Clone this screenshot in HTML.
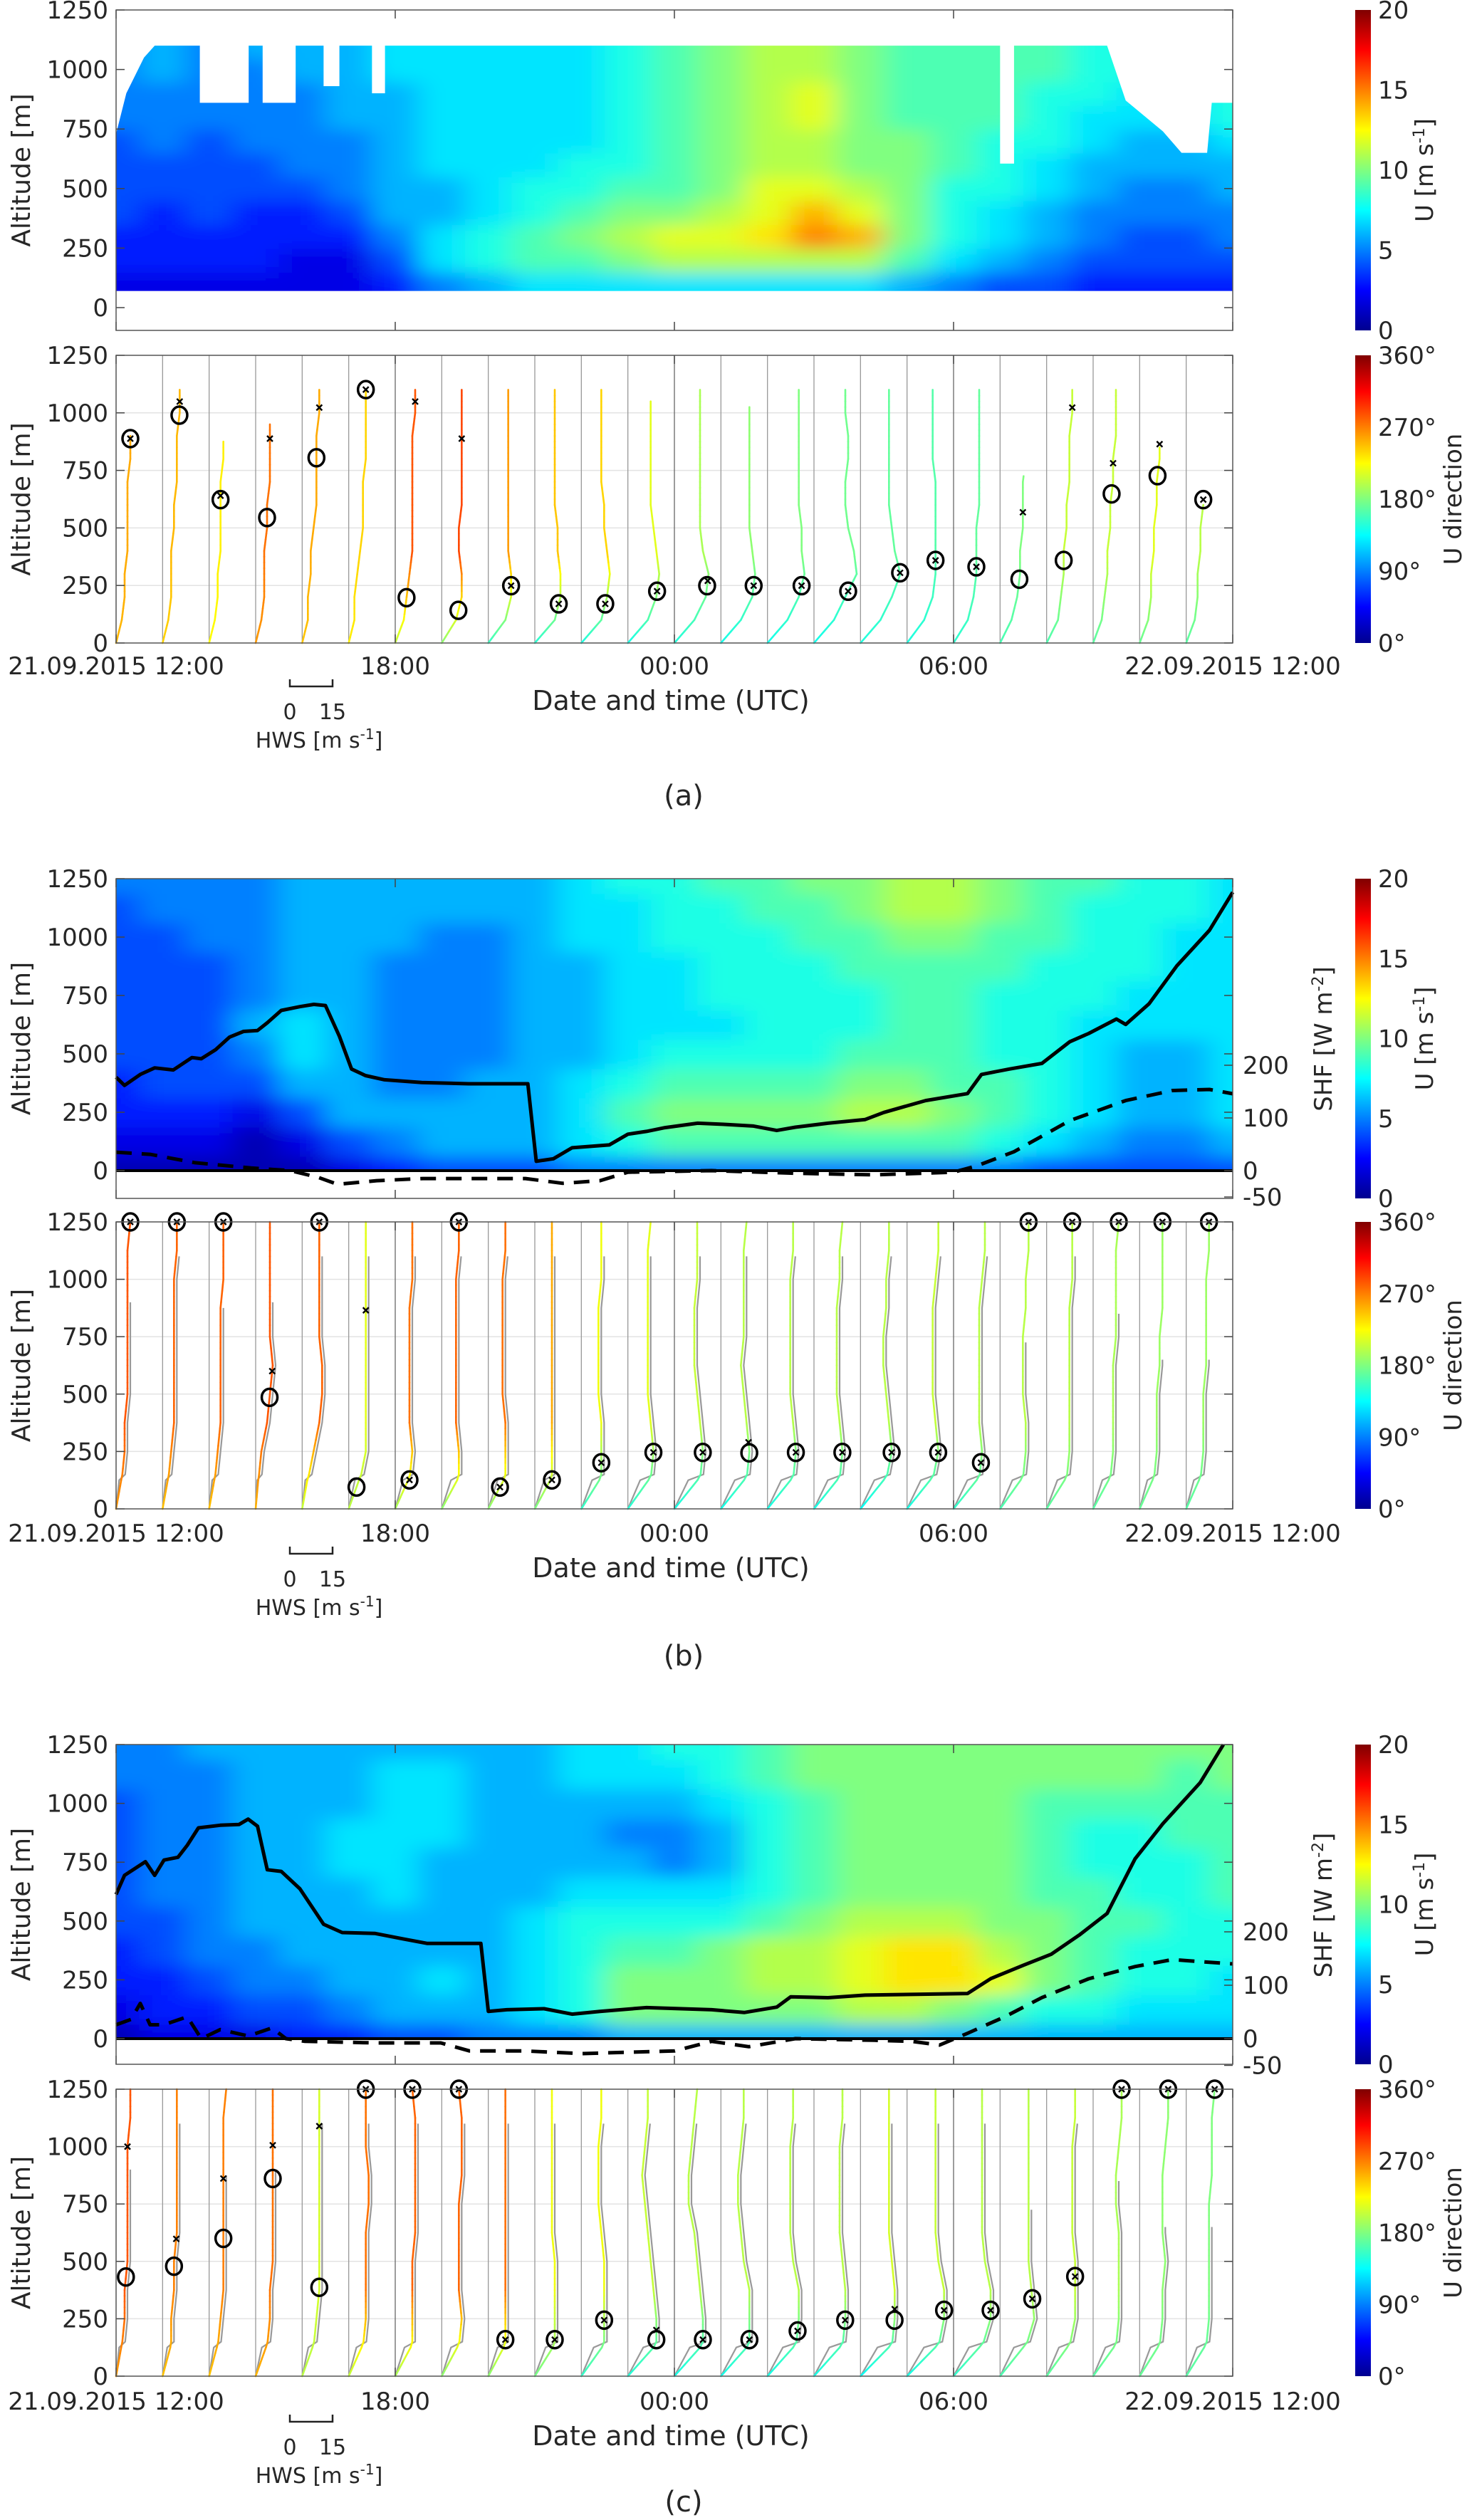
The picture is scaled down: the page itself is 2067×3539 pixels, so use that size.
<!DOCTYPE html>
<html><head><meta charset="utf-8"><style>
html,body{margin:0;padding:0;background:#fff}
svg{display:block}
text{font-family:"DejaVu Sans","Liberation Sans",sans-serif;fill:#262626}
</style></head><body>
<svg id="fig" xmlns="http://www.w3.org/2000/svg" width="2067" height="3539" viewBox="0 0 2067 3539">
<defs>
<filter id="blur" x="-20%" y="-20%" width="140%" height="140%"><feGaussianBlur stdDeviation="20 12"/></filter>
<linearGradient id="jetgrad" x1="0" y1="1" x2="0" y2="0">
<stop offset="0" stop-color="#00008f"/><stop offset="0.125" stop-color="#0000ff"/><stop offset="0.375" stop-color="#00ffff"/><stop offset="0.625" stop-color="#ffff00"/><stop offset="0.875" stop-color="#ff0000"/><stop offset="1" stop-color="#800000"/>
</linearGradient>
</defs>
</svg>
<script>
// ---------- DATA ----------
const hours = [0,1,2,3,4,5,6,7,8,9,10,11,12,13,14,15,16,17,18,19,20,21,22,23,24];
const timeTicks = ["21.09.2015 12:00","18:00","00:00","06:00","22.09.2015 12:00"];
const altTicks = [0,250,500,750,1000,1250];
const speedTicks = [0,5,10,15,20];
const dirTicks = ["0°","90°","180°","270°","360°"];
const shfTicks = [-50,0,100,200];

// panel (a) wind speed grid, rows = altitudes 100..1100 m
const altsA = [100,200,300,400,500,600,700,800,900,1000,1100];
const gridA = [
[2,2,2,2,2,2,3,5,6,7,7,7,7,7,7,7,7,6,5,4,4,3,3,3,3],
[3,3,3,3,2,2,4,7,8,9,9,10,11,11,11,11,11,9,7,6,5,4,4,4,4],
[3,3,3,3,3,3,5,7,8,9,10,11,12,12,13,15,14,10,8,7,6,5,4,4,5],
[4,3,4,3,3,4,6,6,7,8,9,10,10,11,12,14,12,10,8,7,6,5,5,5,5],
[4,4,4,4,4,5,6,6,7,8,8,9,9,10,12,12,11,10,8,8,7,6,5,5,6],
[4,4,4,4,5,5,6,7,7,7,8,8,9,10,11,11,10,10,9,8,7,6,6,6,6],
[4,5,4,5,5,5,6,7,7,7,7,8,9,10,11,11,10,10,9,8,8,7,6,6,7],
[5,5,5,5,5,6,6,7,7,7,7,8,9,10,11,12,10,9,9,9,8,7,7,7,8],
[5,5,5,5,5,6,6,7,7,7,7,8,9,10,11,12,10,9,9,9,8,8,7,7,8],
[5,6,5,5,6,6,7,7,7,7,7,8,9,10,11,11,10,9,9,9,9,8,8,7,8],
[5,6,5,6,6,6,7,7,7,7,7,8,9,10,11,11,10,9,9,9,9,8,8,8,8]];
const maskT =   [0,0.22,0.6,0.83,1.8,1.8,2.85,2.85,3.15,3.15,3.86,3.86,4.46,4.46,4.8,4.8,5.5,5.5,5.78,5.78,19.0,19.0,19.3,19.3,21.3,21.7,22.5,22.9,23.45,23.55,24];
const maskAlt = [730,900,1050,1100,1100,860,860,1100,1100,860,860,1100,1100,930,930,1100,1100,900,900,1100,1100,605,605,1100,1100,870,740,650,650,860,860];
const dataBottomA = 70;

// panels (b),(c) wind speed grids, rows = altitudes 0..1250 m
const altsBC = [0,125,250,375,500,625,750,875,1000,1125,1250];
const gridB = [
[1,1,1,1,1,2,3,4,4,4,5,5,5,5,5,5,5,5,5,5,4,4,4,4,4],
[2,2,2,1,2,4,5,6,6,6,7,8,9,9,9,9,9,9,9,8,7,6,5,5,6],
[3,3,3,2,4,6,6,6,6,6,7,9,10,10,10,10,11,11,10,9,8,7,6,6,7],
[3,4,4,4,6,6,5,5,6,6,7,8,9,9,9,9,10,10,9,9,8,7,6,6,7],
[4,4,4,5,7,6,5,5,5,6,6,7,8,8,8,8,9,9,9,8,8,7,6,6,7],
[4,4,4,6,7,6,5,5,5,6,6,7,7,7,8,8,8,9,9,8,8,7,7,7,7],
[4,4,4,5,6,6,5,5,5,6,6,7,7,8,8,8,8,9,9,8,8,8,7,7,7],
[4,4,4,5,6,6,5,5,5,6,6,7,7,8,8,8,9,9,9,9,8,8,8,7,7],
[4,4,5,5,6,6,6,5,5,6,7,7,8,8,8,9,9,10,10,9,9,8,8,7,7],
[4,5,5,5,6,6,6,6,6,6,7,7,8,8,9,9,10,11,11,10,9,8,8,8,7],
[5,5,5,5,6,6,6,6,6,6,7,8,8,9,9,10,10,11,11,10,9,9,8,8,7]];
const gridC = [
[1,2,2,2,3,3,4,4,5,5,5,6,6,6,6,6,6,6,6,6,6,6,6,6,6],
[2,3,3,4,4,5,6,6,6,7,8,10,10,10,10,10,11,11,10,9,8,8,7,7,7],
[3,3,4,5,5,6,6,7,6,7,8,10,10,10,11,11,12,13,13,12,10,9,8,8,7],
[3,4,5,5,6,6,6,6,6,7,8,9,9,10,11,11,12,13,13,11,10,9,8,8,8],
[4,4,5,6,6,6,6,6,6,7,8,8,8,8,9,10,11,11,11,10,10,9,9,8,8],
[4,5,5,6,6,6,7,6,6,6,7,7,7,7,8,9,10,10,10,10,9,9,8,8,9],
[4,5,5,6,6,7,7,6,6,6,6,6,5,6,8,9,10,10,10,10,9,8,8,8,9],
[4,5,5,6,6,7,7,7,6,6,6,5,5,6,8,9,10,10,10,10,9,8,8,9,9],
[4,5,5,6,6,6,7,7,6,6,6,6,6,7,8,9,10,10,10,10,9,9,9,9,9],
[5,5,5,6,6,6,7,7,6,6,7,7,7,8,9,10,10,10,10,10,10,10,10,9,10],
[5,5,6,6,6,6,6,6,6,6,7,7,8,8,9,10,10,10,10,10,10,10,10,10,10]];

// boundary-layer height (solid) and SHF (dashed)
const blTimeB = [0,0.18,0.52,0.83,1.23,1.63,1.83,2.14,2.44,2.74,3.04,3.25,3.55,3.95,4.25,4.5,4.8,5.06,5.36,5.77,6.57,7.58,8.85,9.03,9.4,9.8,10.6,11.0,11.4,11.8,12.5,13.1,13.7,14.2,14.6,15.3,16.1,16.5,17.4,18.3,18.6,19.2,19.9,20.5,20.9,21.5,21.7,22.2,22.8,23.5,24];
const blAltB =  [400,365,412,440,431,484,479,518,572,596,600,633,686,702,712,707,575,435,407,389,377,372,372,40,51,98,110,156,168,184,203,198,191,172,186,203,219,249,300,330,412,435,459,552,587,649,626,714,877,1029,1192];
const shfTimeB = [0,0.73,1.7,2.9,3.75,4.35,4.76,5.6,6.6,8.8,9.6,10.4,11.0,12.8,14.6,16.3,18.0,18.5,19.3,20.5,21.7,22.7,23.5,24];
const shfValB =  [35,31,15,5,0,-13,-26,-19,-15,-15,-24,-19,-3,0,-5,-8,-3,9,36,95,133,152,154,146];
const blTimeC = [0,0.18,0.63,0.83,1.03,1.33,1.53,1.77,2.24,2.64,2.84,3.04,3.25,3.55,3.95,4.46,4.86,5.57,6.17,6.68,7.84,8.0,8.4,9.2,9.8,10.4,11.4,12.8,13.5,14.2,14.5,15.3,16.1,17.7,18.3,18.8,19.5,20.1,20.7,21.3,21.9,22.5,23.3,23.8];
const blAltC =  [613,694,752,694,759,771,822,896,907,910,933,903,718,711,637,486,451,447,424,405,405,116,123,127,104,116,132,123,111,134,178,174,185,190,192,255,312,359,440,532,764,914,1088,1250];
const shfTimeC = [0,0.32,0.52,0.73,1.03,1.53,1.83,2.24,2.84,3.35,3.65,4.06,5.57,6.98,7.6,8.8,10.0,12.0,12.8,13.6,14.6,16.3,17.1,17.7,18.3,19.1,19.9,20.9,21.9,22.7,23.5,24];
const shfValC =  [26,36,66,26,26,41,0,17,5,20,0,-5,-8,-8,-23,-23,-28,-23,-5,-15,0,-3,-5,-12,10,41,77,112,135,148,143,140];

// profile directions (deg) aloft / near ground, LLJ circle and max markers (m)
const dirHiA = [255,250,230,275,255,240,285,290,260,245,240,215,195,185,180,175,170,165,170,180,205,205,215,200];
const dirLoA = [250,240,225,260,245,230,200,180,150,145,140,140,145,140,140,140,145,145,150,160,160,165,170,165];
const topA   = [900,1100,890,970,1100,1100,1100,1100,1100,1100,1100,1070,1100,1040,1100,1100,1100,1100,1100,730,1100,1100,870,620];
const circA  = [888,990,623,545,805,1101,197,142,249,170,170,225,249,249,249,225,305,359,331,277,359,648,727,623];
const xmarkA = [888,1049,640,888,1023,1101,1049,888,249,170,170,225,270,249,249,225,305,359,331,568,1023,781,864,623];
const dirHiB = [285,280,280,285,280,215,275,280,275,255,220,215,205,200,200,200,200,205,200,200,200,195,190,190];
const dirLoB = [260,245,245,250,200,200,190,180,180,175,150,145,140,140,140,140,135,140,150,160,165,165,170,165];
const grayTopB = [910,1100,880,900,1100,1100,1100,1100,1100,1100,1100,1100,1100,1100,1100,1100,1100,1100,1100,730,1100,860,650,650];
const circB  = [1250,1250,1250,486,1250,95,126,1250,95,126,201,246,246,244,246,246,246,246,201,1250,1250,1250,1250,1250];
const xmarkB = [1250,1250,1250,600,1250,865,126,1250,95,126,201,246,246,290,246,246,246,246,201,1250,1250,1250,1250,1250];
const dirHiC = [285,270,270,275,210,275,280,280,275,220,220,205,200,200,200,200,210,205,200,200,205,195,185,180];
const dirLoC = [260,245,245,250,200,200,190,180,180,175,150,145,140,140,140,140,135,140,150,160,165,165,170,165];
const grayTopC = [910,1100,880,900,1100,1100,1100,1100,1100,1100,1100,1100,1100,1100,1100,1100,1100,1100,1100,730,1100,860,650,650];
const circC  = [432,479,600,861,387,1250,1250,1250,159,159,244,159,159,159,197,244,244,287,287,337,434,1250,1250,1250];
const xmarkC = [1000,598,861,1006,1089,1250,1250,1250,159,159,244,201,159,159,197,244,292,287,287,337,434,1250,1250,1250];

// ---------- HELPERS ----------
const NS = "http://www.w3.org/2000/svg";
const svg = document.getElementById("fig");
const X0 = 163, X1 = 1731;
const hx = (X1 - X0) / 24;
const X = h => X0 + h * hx;
const HWS_PX = 4; // px per m/s
function mk(tag, attrs, parent) {
  const e = document.createElementNS(NS, tag);
  for (const k in attrs) e.setAttribute(k, attrs[k]);
  (parent || svg).appendChild(e);
  return e;
}
function clamp(v){return Math.max(0,Math.min(1,v));}
function jet(t){
  t = clamp(t);
  const r = clamp(1.5 - Math.abs(4*t-3)), g = clamp(1.5 - Math.abs(4*t-2)), b = clamp(1.5 - Math.abs(4*t-1));
  return "rgb(" + Math.round(r*255) + "," + Math.round(g*255) + "," + Math.round(b*255) + ")";
}
function txt(x, y, s, opts, parent){
  const t = mk("text", Object.assign({x:x, y:y, "font-size":34}, opts||{}), parent);
  t.textContent = s;
  return t;
}
function interp(xs, ys, x){
  if (x <= xs[0]) return ys[0];
  for (let i=1;i<xs.length;i++) if (x <= xs[i]) { const f=(x-xs[i-1])/(xs[i]-xs[i-1]); return ys[i-1]+f*(ys[i]-ys[i-1]); }
  return ys[ys.length-1];
}

const P = {
  a1:{top:14,bot:464,y0:432,s:418/1250},
  a2:{top:499,bot:903,y0:903,s:404/1250},
  b1:{top:1234,bot:1683,y0:1644,s:410/1250,shf:0.74},
  b2:{top:1716,bot:2119,y0:2119,s:403/1250},
  c1:{top:2450,bot:2899,y0:2863,s:413/1250,shf:0.75},
  c2:{top:2934,bot:3337,y0:3337,s:403/1250}
};
const Y = (p, alt) => p.y0 - alt * p.s;

function leftAxis(p, name){
  const g = mk("g", {});
  
  
  altTicks.forEach(a => {
    const y = Y(p, a);
    if (y < p.top - 2) return;
    txt(152, y + 12, String(a), {"text-anchor":"end"}, g);
    mk("line", {x1:X0, x2:X0+12, y1:y, y2:y, stroke:"#444", "stroke-width":1.5}, g);
    mk("line", {x1:X1-12, x2:X1, y1:y, y2:y, stroke:"#444", "stroke-width":1.5}, g);
  });
  const cy = (p.top + p.bot) / 2;
  const lab = txt(0, 0, "Altitude [m]", {"text-anchor":"middle", transform:"translate(42," + cy + ") rotate(-90)", "font-size":36}, g);
  
  
}
function timeTickMarks(p, g){
  for (let k=0;k<=4;k++){
    const x = X(k*6);
    mk("line", {x1:x, x2:x, y1:p.top, y2:p.top+12, stroke:"#444", "stroke-width":1.5}, g);
    mk("line", {x1:x, x2:x, y1:p.bot, y2:p.bot-12, stroke:"#444", "stroke-width":1.5}, g);
  }
}
function frame(p, name){
  const r = mk("rect", {x:X0, y:p.top, width:X1-X0, height:p.bot-p.top, fill:"none", stroke:"#555", "stroke-width":1.5});
  
  
}

function heat(p, grid, alts, name, clipPts){
  const id = "clip-" + name;
  const cp = mk("clipPath", {id:id});
  if (clipPts) mk("polygon", {points: clipPts}, cp);
  else mk("rect", {x:X0, y:p.top, width:X1-X0, height:p.y0-p.top}, cp);
  const g = mk("g", {"clip-path":"url(#" + id + ")"});
  
  
  const gb = mk("g", {filter:"url(#blur)"}, g);
  const nR = alts.length, nC = grid[0].length;
  for (let r=0;r<nR;r++){
    const yC = Y(p, alts[r]);
    const yHalfUp = r < nR-1 ? (Y(p, alts[r]) - Y(p, alts[r+1]))/2 : 120;
    const yHalfDn = r > 0 ? (Y(p, alts[r-1]) - Y(p, alts[r]))/2 : 120;
    for (let c=0;c<nC;c++){
      let x = X(hours[c]) - hx/2, w = hx;
      if (c===0){x -= 120; w += 120;}
      if (c===nC-1){w += 120;}
      const cell = mk("rect", {x:x, y:yC-yHalfUp, width:w+1, height:yHalfUp+yHalfDn+1, fill:jet(grid[r][c]/20), "shape-rendering":"crispEdges"}, gb);
      
      
    }
  }
}

function colorbar(top, bot, labels, title, name, isDir){
  const g = mk("g", {});
  
  
  mk("rect", {x:1903, y:top, width:22, height:bot-top, fill:"url(#jetgrad)"}, g);
  labels.forEach((l,i) => {
    const y = bot - i*(bot-top)/(labels.length-1);
    txt(1935, y + 12, String(l), {}, g);
  });
  const cy = (top+bot)/2;
  const t = mk("text", {transform:"translate(" + (isDir?2052:2012) + "," + cy + ") rotate(-90)", "text-anchor":"middle", "font-size":34}, g);
  if (isDir) t.textContent = "U direction";
  else { t.textContent = "U [m s"; const ts = mk("tspan", {"baseline-shift":"super","font-size":22}, t); ts.textContent = "-1"; const t2 = mk("tspan", {}, t); t2.textContent = "]"; }
}

function xAxisLabels(p, name, labelY, tag, tagY){
  const g = mk("g", {});
  
  
  timeTicks.forEach((s,i) => txt(X(i*6), labelY, s, {"text-anchor":"middle"}, g));
  txt(942, labelY + 50, "Date and time (UTC)", {"text-anchor":"middle", "font-size":38}, g);
  const hb = mk("g", {}, g);
  
  
  const by = labelY + 17, bx = 407;
  mk("path", {d:"M"+bx+","+(by-10)+" V"+by+" H"+(bx+15*HWS_PX)+" V"+(by-10), fill:"none", stroke:"#222", "stroke-width":2.5}, hb);
  txt(bx, by + 46, "0", {"text-anchor":"middle", "font-size":30}, hb);
  txt(bx+15*HWS_PX, by + 46, "15", {"text-anchor":"middle", "font-size":30}, hb);
  const ht = txt(448, by + 86, "HWS [m s", {"text-anchor":"middle", "font-size":30}, hb);
  const sp = mk("tspan", {"baseline-shift":"super","font-size":20}, ht); sp.textContent = "-1";
  const sp2 = mk("tspan", {}, ht); sp2.textContent = "]";
  const pl = txt(960, tagY, tag, {"text-anchor":"middle", "font-size":40});
  
  
}

function lineSeries(p, ts, vals, toY, name, dashed){
  const pts = ts.map((t,i) => X(t).toFixed(1) + "," + toY(vals[i]).toFixed(1)).join(" ");
  const l = mk("polyline", {points:pts, fill:"none", stroke:"#000", "stroke-width":5, "stroke-linejoin":"round", "stroke-dasharray": dashed ? "22 14" : "none"});
  
  
}

function shfAxis(p, name){
  const g = mk("g", {});
  
  
  shfTicks.forEach(v => {
    const y = p.y0 - v * p.shf;
    mk("line", {x1:X1-12, x2:X1, y1:y, y2:y, stroke:"#444", "stroke-width":1.5}, g);
    txt(1745, y + 12, String(v), {}, g);
  });
  const cy = p.y0 - 250*p.shf;
  const t = mk("text", {transform:"translate(1870," + cy + ") rotate(-90)", "text-anchor":"middle", "font-size":34}, g);
  t.textContent = "SHF [W m";
  const s = mk("tspan", {"baseline-shift":"super","font-size":22}, t); s.textContent = "-2";
  const s2 = mk("tspan", {}, t); s2.textContent = "]";
  mk("line", {x1:X0, x2:X1, y1:p.y0, y2:p.y0, stroke:"#000", "stroke-width":4}, g);
}

function profiles(p, grid, alts, dirHi, dirLo, topAlts, circ, xm, name, grayTop){
  const g = mk("g", {});
  
  
  [250,500,750,1000].forEach(a => mk("line", {x1:X0, x2:X1, y1:Y(p,a), y2:Y(p,a), stroke:"#e3e3e3", "stroke-width":1.5}, g));
  for (let h=1; h<24; h++) mk("line", {x1:X(h), x2:X(h), y1:p.top, y2:p.bot, stroke:h%6===0?"#666":"#999", "stroke-width":1.3}, g);
  const spd = (c, a) => {
    if (a < alts[0]) { const v0 = grid[0][c]; return v0 * a / alts[0]; }
    const col = alts.map((_,r) => grid[r][c]);
    return interp(alts, col, a);
  };
  const spdBC = (c, a) => {
    if (a <= 125) return grid[1][c] * a / 125 * 0.9;
    const col = alts.map((_,r) => grid[r][c]);
    return interp(alts, col, a);
  };
  const S = alts[0] === 0 ? spdBC : spd;
  for (let c=0; c<24; c++){
    const pg = mk("g", {}, g);
    
    
    if (grayTop){
      let pts = [];
      for (let a=0; a<=grayTop[c]; a+=25){
        const v = a < 150 ? S(c,a)*0.6 : S(c,a) + 1.0;
        pts.push(X(hours[c]) + v*HWS_PX + "," + Y(p,a));
      }
      const gl = mk("polyline", {points:pts.join(" "), fill:"none", stroke:"#999", "stroke-width":2.2}, pg);
      
      
    }
    const top = topAlts[c];
    let prev = null;
    for (let a=0; a<=top; a+=25){
      const pt = [X(hours[c]) + S(c,a)*HWS_PX, Y(p,a)];
      if (prev){
        const d = dirLo[c] + (dirHi[c]-dirLo[c]) * Math.min(1, a/400);
        mk("line", {x1:prev[0], y1:prev[1], x2:pt[0], y2:pt[1], stroke:jet(d/360), "stroke-width":2.6, "stroke-linecap":"round"}, pg);
      }
      prev = pt;
    }
    const cx = X(hours[c]) + S(c, Math.min(circ[c], top))*HWS_PX;
    const ci = mk("ellipse", {cx:cx, cy:Y(p,circ[c]), rx:11, ry:12, fill:"none", stroke:"#000", "stroke-width":3.5}, pg);
    
    
    const mx = X(hours[c]) + S(c, Math.min(xm[c], top))*HWS_PX, my = Y(p, xm[c]);
    const xmk = mk("path", {d:"M"+(mx-4)+","+(my-4)+" L"+(mx+4)+","+(my+4)+" M"+(mx+4)+","+(my-4)+" L"+(mx-4)+","+(my+4), stroke:"#000", "stroke-width":2.4}, pg);
    
    
  }
}

// ---------- PANEL A ----------
{
  const p = P.a1;
  const pts = [];
  pts.push(X(0) + "," + Y(p, dataBottomA));
  maskT.forEach((t,i) => pts.push(X(t) + "," + Y(p, maskAlt[i])));
  pts.push(X(24) + "," + Y(p, dataBottomA));
  heat(p, gridA, altsA, "a1", pts.join(" "));
  leftAxis(p, "a1");
  const g = mk("g", {}); timeTickMarks(p, g);
  frame(p, "a1");
  colorbar(p.top, p.bot, speedTicks, "U", "a1-colorbar", false);
  const q = P.a2;
  profiles(q, gridA, altsA, dirHiA, dirLoA, topA, circA, xmarkA, "a2", null);
  leftAxis(q, "a2");
  const g2 = mk("g", {}); timeTickMarks(q, g2);
  frame(q, "a2");
  colorbar(q.top, q.bot, dirTicks, "dir", "a2-colorbar", true);
  xAxisLabels(q, "a2", 947, "(a)", 1131);
}
// ---------- PANEL B ----------
{
  const p = P.b1;
  heat(p, gridB, altsBC, "b1", null);
  lineSeries(p, blTimeB, blAltB, v => Y(p, v), "b1-boundary-layer-height-line", false);
  lineSeries(p, shfTimeB, shfValB, v => p.y0 - v*p.shf, "b1-shf-line", true);
  shfAxis(p, "b1");
  leftAxis(p, "b1");
  const g = mk("g", {}); timeTickMarks(p, g);
  frame(p, "b1");
  colorbar(p.top, p.bot, speedTicks, "U", "b1-colorbar", false);
  const q = P.b2;
  profiles(q, gridB, altsBC, dirHiB, dirLoB, new Array(24).fill(1250), circB, xmarkB, "b2", grayTopB);
  leftAxis(q, "b2");
  const g2 = mk("g", {}); timeTickMarks(q, g2);
  frame(q, "b2");
  colorbar(q.top, q.bot, dirTicks, "dir", "b2-colorbar", true);
  xAxisLabels(q, "b2", 2165, "(b)", 2339);
}
// ---------- PANEL C ----------
{
  const p = P.c1;
  heat(p, gridC, altsBC, "c1", null);
  lineSeries(p, blTimeC, blAltC, v => Y(p, v), "c1-boundary-layer-height-line", false);
  lineSeries(p, shfTimeC, shfValC, v => p.y0 - v*p.shf, "c1-shf-line", true);
  shfAxis(p, "c1");
  leftAxis(p, "c1");
  const g = mk("g", {}); timeTickMarks(p, g);
  frame(p, "c1");
  colorbar(p.top, p.bot, speedTicks, "U", "c1-colorbar", false);
  const q = P.c2;
  profiles(q, gridC, altsBC, dirHiC, dirLoC, new Array(24).fill(1250), circC, xmarkC, "c2", grayTopC);
  leftAxis(q, "c2");
  const g2 = mk("g", {}); timeTickMarks(q, g2);
  frame(q, "c2");
  colorbar(q.top, q.bot, dirTicks, "dir", "c2-colorbar", true);
  xAxisLabels(q, "c2", 3384, "(c)", 3527);
}
</script>
</body></html>
